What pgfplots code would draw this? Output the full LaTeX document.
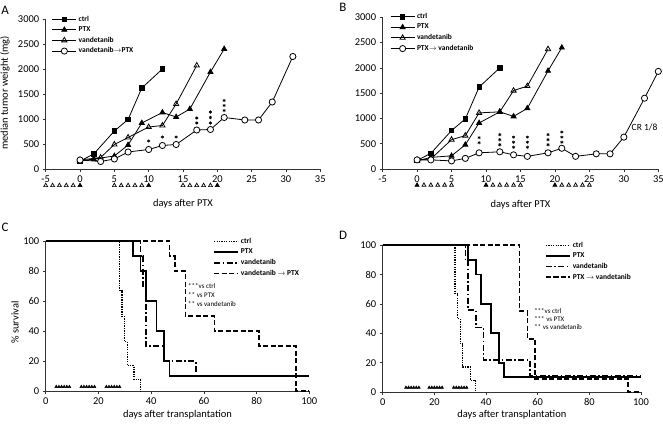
\documentclass[border=0pt]{standalone}
\usepackage{fontspec}
\setmainfont{Carlito}
\usepackage{pgfplots}
\pgfplotsset{compat=1.18}
\pgfplotsset{legend image code/.code={\draw[mark repeat=2,mark phase=2,#1] plot coordinates {(0bp,0bp)(12bp,0bp)(24bp,0bp)};}}
\pgfplotsset{
 panel/.style={scale only axis, anchor=south west, axis lines*=left,
   axis line style={black!80, line width=0.8bp},
   every tick/.style={black!80, line width=0.6bp},
   tick align=outside, major tick length=3bp,
   /pgf/number format/assume math mode=true,
   /pgf/number format/1000 sep={},
   tick label style={font=\fontsize{10.5}{12}\selectfont},
   label style={font=\fontsize{10.5}{12}\selectfont},
   clip=false,
   legend cell align=left,
   legend style={draw=none, fill=none, inner sep=0pt, row sep=0bp, font=\bfseries\fontsize{7.5}{9}\selectfont, anchor=north west},
 },
 ln/.style={black, line width=0.8bp},
 stars/.style={only marks, mark=asterisk, mark size=1.6bp, line width=0.6bp, black, forget plot},
 trt/.style={only marks, black, mark size=2.3bp, line width=0.7bp, forget plot},
 ctrlS/.style={black, line width=1.3bp, dash pattern=on 1.3bp off 1.1bp, const plot},
 ptxS/.style={black, line width=1.7bp, const plot},
 vanS/.style={black, line width=1.7bp, dash pattern=on 6bp off 2.5bp on 1.5bp off 2.5bp, const plot},
 comS/.style={black, line width=1.7bp, dash pattern=on 5bp off 2.5bp, const plot},
}
\begin{document}
\begin{tikzpicture}

% ---------------- Panel A ----------------
\begin{axis}[panel, at={(45.7bp,255bp)}, width=274.6bp, height=150bp,
  xmin=-5, xmax=35, ymin=0, ymax=3000,
  xtick={-5,0,...,35}, ytick={0,500,...,3000},
  xlabel={days after PTX}, ylabel={median tumor weight (mg)},
  xlabel style={at={(axis description cs:0.5,-0.233)}, anchor=center},
  ylabel style={at={(axis description cs:-0.148,0.507)}, anchor=center},
  legend style={at={(axis description cs:0.022,1.035)}}]
\addplot[ln, mark=square*, mark size=2.2bp] coordinates {(0,160)(2,300)(5,760)(7,990)(9,1620)(12,2000)};
\addplot[ln, mark=triangle*, mark size=2.9bp] coordinates {(0,160)(2,200)(5,260)(7,480)(9,920)(12,1130)(14,1040)(16,1200)(19,1940)(21,2400)};
\addplot[ln, mark=triangle, mark size=3bp, mark options={fill=white}] coordinates {(0,180)(3,230)(5,490)(7,630)(10,840)(12,870)(14,1300)(17,2070)};
\addplot[ln, mark=*, mark size=3.1bp, mark options={fill=white}] coordinates {(0,180)(3,150)(5,200)(7,340)(10,390)(12,470)(14,490)(17,780)(19,790)(21,1030)(24,980)(26,980)(28,1340)(31,2250)};
\legend{ctrl, PTX, vandetanib, vandetanib$\rightarrow$PTX}
\addplot[stars] coordinates {(10,560)(12,640)(14,640)(17,920)(17,1020)(19,920)(19,1030)(19,1140)(21,1170)(21,1270)(21,1370)};
\addplot[trt, mark=triangle, mark options={fill=white}] coordinates {(-5,-330)(-4,-330)(-3,-330)(-2,-330)(-1,-330)(5,-330)(6,-330)(7,-330)(8,-330)(9,-330)(15,-330)(16,-330)(17,-330)(18,-330)(19,-330)};
\addplot[trt, mark=triangle*] coordinates {(0,-330)(10,-330)(20,-330)};
\end{axis}

% ---------------- Panel B ----------------
\begin{axis}[panel, at={(382.6bp,255bp)}, width=275.7bp, height=151.7bp,
  xmin=-5, xmax=35, ymin=0, ymax=3000,
  xtick={-5,0,...,35}, ytick={0,500,...,3000},
  xlabel={days after PTX},
  xlabel style={at={(axis description cs:0.5,-0.237)}, anchor=center},
  legend style={at={(axis description cs:0.027,1.04)}}]
\addplot[ln, mark=square*, mark size=2.2bp] coordinates {(0,170)(2,310)(5,760)(7,990)(9,1620)(12,2000)};
\addplot[ln, mark=triangle*, mark size=2.9bp] coordinates {(0,160)(2,230)(5,260)(7,480)(9,910)(12,1130)(14,1040)(16,1200)(19,1940)(21,2400)};
\addplot[ln, mark=triangle, mark size=3bp, mark options={fill=white}] coordinates {(0,180)(2,200)(5,580)(7,660)(9,1110)(12,1130)(14,1550)(16,1640)(19,2370)};
\addplot[ln, mark=*, mark size=3.1bp, mark options={fill=white}] coordinates {(0,180)(2,180)(5,160)(7,210)(9,320)(12,340)(14,280)(16,250)(19,320)(21,410)(23,250)(26,300)(28,300)(30,630)(33,1400)(35,1930)};
\legend{ctrl, PTX, vandetanib, PTX$\rightarrow$ vandetanib}
\addplot[stars] coordinates {(9,520)(9,620)(12,480)(12,580)(12,680)(14,430)(14,530)(14,630)(16,430)(16,530)(16,630)(19,480)(19,580)(19,680)(21,530)(21,630)(21,730)};
\addplot[trt, mark=triangle, mark options={fill=white}] coordinates {(1,-320)(2,-320)(3,-320)(4,-320)(5,-320)(11,-320)(12,-320)(13,-320)(14,-320)(15,-320)(21,-320)(22,-320)(23,-320)(24,-320)(25,-320)};
\addplot[trt, mark=triangle*] coordinates {(0,-320)(10,-320)(20,-320)};
\node[font=\fontsize{9.5}{11}\selectfont, anchor=center] at (axis cs:33,820) {CR 1/8};
\end{axis}

% ---------------- Panel C ----------------
\begin{axis}[panel, at={(45.7bp,32.7bp)}, width=263.6bp, height=150bp,
  xmin=0, xmax=100, ymin=0, ymax=100,
  xtick={0,20,...,100}, ytick={0,20,...,100},
  xlabel={days after transplantation}, ylabel={\% survival},
  xlabel style={at={(axis description cs:0.5,-0.158)}, anchor=center},
  ylabel style={at={(axis description cs:-0.116,0.46)}, anchor=center},
  legend style={at={(axis description cs:0.635,1.035)}}]
\addplot[ctrlS] coordinates {(0,100)(28,67)(29,50)(30,33)(31,17)(33.5,8)(36,0)};
\addplot[ptxS] coordinates {(0,100)(33,90)(36,80)(38,60)(42,40)(45,20)(47,10)(100,10)};
\addplot[vanS] coordinates {(0,100)(36,90)(37,70)(38,30)(45,20)(57,10)(100,10)};
\addplot[comS] coordinates {(0,100)(47,90)(49,80)(53,50)(64,40)(81,30)(95,0)(100,0)};
\legend{ctrl, PTX, vandetanib, vandetanib $\rightarrow$ PTX}
\addplot[trt, mark=triangle*, mark size=1.7bp, line width=0.4bp] coordinates {(4,3)(5,3)(6,3)(7,3)(8,3)(9,3)(13.5,3)(14.5,3)(15.5,3)(16.5,3)(17.5,3)(18.5,3)(23,3)(24,3)(25,3)(26,3)(27,3)(28,3)};
\node[anchor=north west, align=left, inner sep=0pt, font=\fontsize{7}{9}\selectfont] at (axis cs:54,72) {***vs ctrl\\** vs PTX\\** vs vandetanib};
\end{axis}

% ---------------- Panel D ----------------
\begin{axis}[panel, at={(382.7bp,32bp)}, width=258.3bp, height=146.7bp,
  xmin=0, xmax=100, ymin=0, ymax=100,
  xtick={0,20,...,100}, ytick={0,20,...,100},
  xlabel={days after transplantation},
  xlabel style={at={(axis description cs:0.5,-0.157)}, anchor=center},
  legend style={at={(axis description cs:0.628,1.036)}}]
\addplot[ctrlS] coordinates {(0,100)(28,67)(29,50)(30,33)(31,17)(34,8)(36,0)};
\addplot[ptxS] coordinates {(0,100)(33,90)(36,80)(38,60)(42,40)(45,20)(47,10)(100,10)};
\addplot[vanS] coordinates {(0,100)(32,89)(33,56)(36,44)(39,22)(57,11)(100,11)};
\addplot[comS] coordinates {(0,100)(53,55)(56,36)(59,9)(95,0)(100,0)};
\legend{ctrl, PTX, vandetanib, PTX $\rightarrow$ vandetanib}
\addplot[trt, mark=triangle*, mark size=1.7bp, line width=0.4bp] coordinates {(9,3)(10,3)(11,3)(12,3)(13,3)(14,3)(18,3)(19,3)(20,3)(21,3)(22,3)(23,3)(27.5,3)(28.5,3)(29.5,3)(30.5,3)(31.5,3)(32.5,3)};
\node[anchor=north west, align=left, inner sep=0pt, font=\fontsize{7}{7.8}\selectfont] at (axis cs:58.6,57) {***vs ctrl\\*** vs PTX\\** vs vandetanib};
\end{axis}

% panel letters
\node[font=\fontsize{13}{15}\selectfont] at (5bp,414bp) {A};
\node[font=\fontsize{13}{15}\selectfont] at (343bp,417bp) {B};
\node[font=\fontsize{13}{15}\selectfont] at (5bp,197bp) {C};
\node[font=\fontsize{13}{15}\selectfont] at (343bp,189bp) {D};

\pgfresetboundingbox
\path[use as bounding box] (0bp,0bp) rectangle (663bp,424bp);
\end{tikzpicture}
\end{document}
